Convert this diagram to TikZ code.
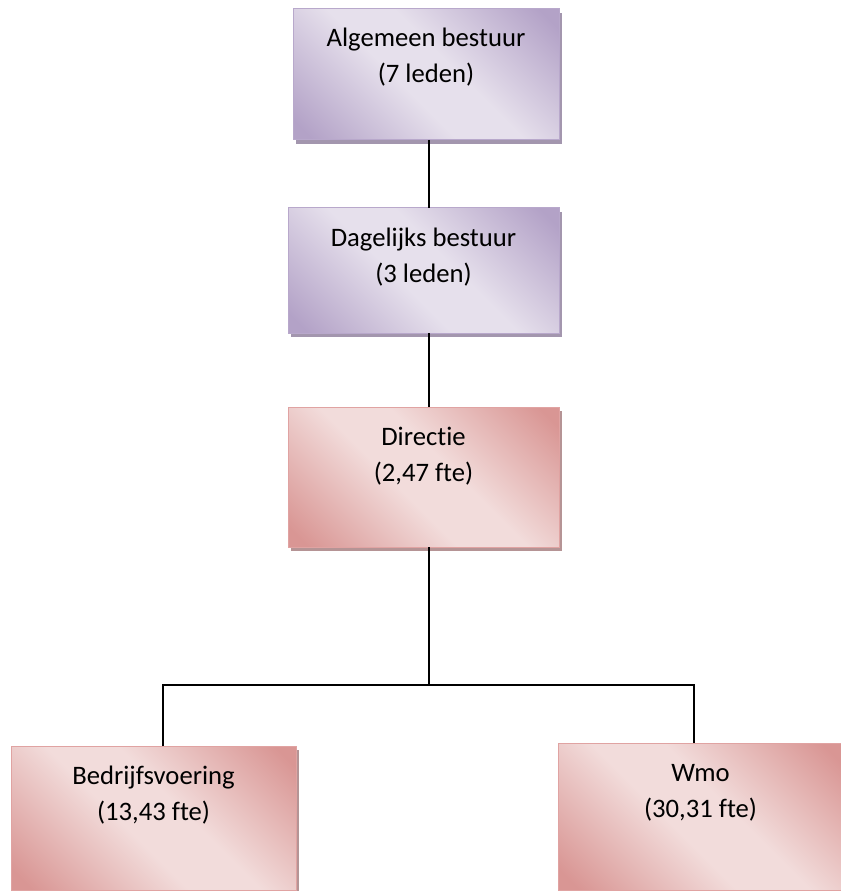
\documentclass[tikz,border=0pt]{standalone}
\usepackage{fontspec}
\setmainfont{Carlito}[Ligatures=NoCommon]
\usepackage{tikz}
\usetikzlibrary{shadows}
\definecolor{pdark}{HTML}{B3A2C7}
\definecolor{plight}{HTML}{E6E0EC}
\definecolor{pedge}{HTML}{B8A8CB}
\definecolor{pshadow}{HTML}{A396AE}
\definecolor{rdark}{HTML}{D99694}
\definecolor{rlight}{HTML}{F2DCDB}
\definecolor{redge}{HTML}{E0A3A2}
\definecolor{rshadow}{HTML}{B59495}
\pgfdeclareverticalshading{paarsverloop}{100bp}{color(0bp)=(pdark); color(18bp)=(pdark);
  color(44bp)=(plight); color(56bp)=(plight); color(82bp)=(pdark); color(100bp)=(pdark)}
\pgfdeclareverticalshading{roodverloop}{100bp}{color(0bp)=(rdark); color(18bp)=(rdark);
  color(44bp)=(rlight); color(56bp)=(rlight); color(82bp)=(rdark); color(100bp)=(rdark)}
\tikzset{
  orgbox/.style={inner sep=0pt, outer sep=0pt, anchor=north,
    align=center, font=\fontsize{20pt}{27pt}\selectfont, text height=55.5pt,
    line width=0.75pt},
  bestuur/.style={orgbox, shading=paarsverloop, shading angle=-45, draw=pedge,
    drop shadow={shadow xshift=2.5pt, shadow yshift=-3pt, fill=pshadow, opacity=1}},
  afdeling/.style={orgbox, shading=roodverloop, shading angle=-45, draw=redge,
    drop shadow={shadow xshift=2.5pt, shadow yshift=-3pt, fill=rshadow, opacity=1}},
  link/.style={black, line width=1.3pt}
}
\begin{document}
\begin{tikzpicture}[x=0.75pt, y=-0.75pt]
\useasboundingbox (0,0) rectangle (841,891);
% bestuur
\node[bestuur, minimum width=199.5pt, text depth=42.75pt] (alg) at (426,9) {Algemeen bestuur\\(7 leden)};
\node[bestuur, minimum width=203.25pt, text depth=38.25pt] (dag) at (423.5,208) {Dagelijks bestuur\\(3 leden)};
% organisatie
\node[afdeling, minimum width=203.25pt, text depth=49.5pt] (dir) at (423.5,407) {Directie\\(2,47 fte)};
\node[afdeling, minimum width=213.75pt, text depth=52.5pt] (bed) at (153.5,746) {Bedrijfsvoering\\(13,43 fte)};
\node[afdeling, minimum width=213.75pt, text depth=54.75pt] (wmo) at (700.5,743) {Wmo\\(30,31 fte)};
% lijnen
\coordinate (hub) at (429,685);
\coordinate (lhub) at (163,685);
\coordinate (rhub) at (694,685);
\draw[link] (hub |- alg.south) -- (hub |- dag.north);
\draw[link] (hub |- dag.south) -- (hub |- dir.north);
\draw[link] (hub |- dir.south) -- (hub);
\draw[link] (lhub |- bed.north) -- (lhub) -- (rhub) -- (rhub |- wmo.north);
\end{tikzpicture}
\end{document}
